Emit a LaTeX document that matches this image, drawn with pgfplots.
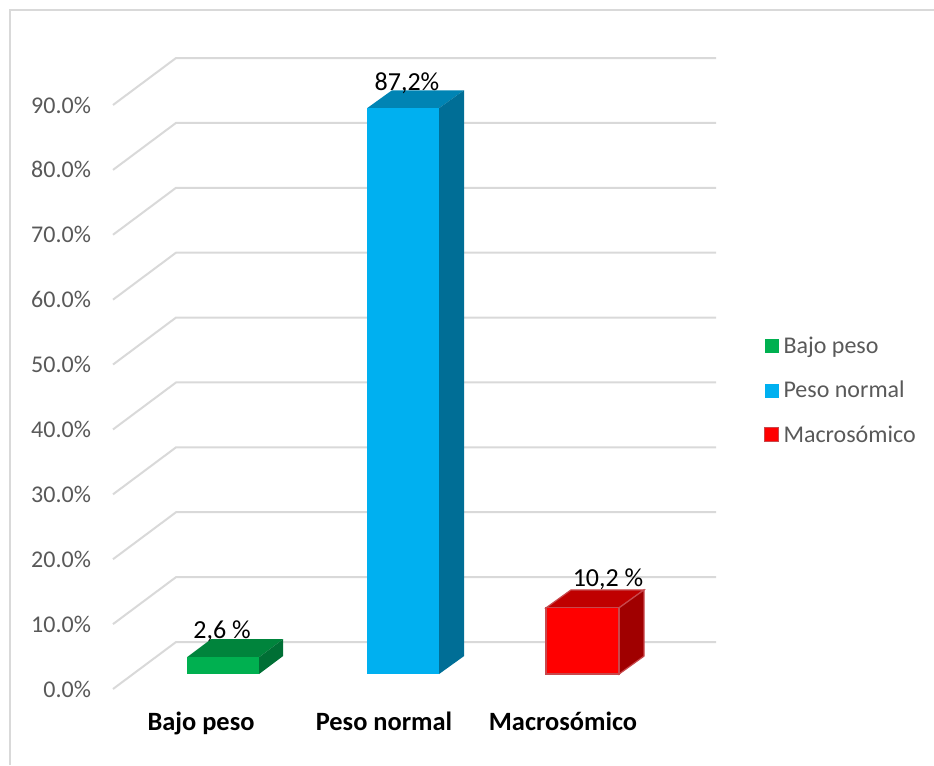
\documentclass[border=0pt]{standalone}
\usepackage{fontspec}
\setmainfont{Carlito}
\usepackage{pgfplots}
\pgfplotsset{compat=1.18}
\definecolor{gridc}{HTML}{D9D9D9}
\definecolor{txt}{HTML}{595959}
\definecolor{gF}{HTML}{00B050}\definecolor{gT}{HTML}{00843C}\definecolor{gS}{HTML}{006F35}
\definecolor{bF}{HTML}{00B0F0}\definecolor{bT}{HTML}{0084B4}\definecolor{bS}{HTML}{006E96}
\definecolor{rF}{HTML}{FF0000}\definecolor{rT}{HTML}{BF0000}\definecolor{rS}{HTML}{A00000}
\definecolor{rB}{HTML}{C8484C}
\begin{document}
\begin{tikzpicture}
\path[use as bounding box] (0,0) rectangle (700.5pt,573.75pt);
\draw[gridc,line width=1.5pt] (7.5pt,0) -- (7.5pt,566.25pt) -- (700.5pt,566.25pt);
\begin{axis}[
  at={(84.75pt,57pt)}, anchor=south west,
  scale only axis, width=452.25pt, height=438pt,
  xmin=113, xmax=716, ymin=0, ymax=90,
  clip=false,
  axis line style={draw=none},
  major tick length=0pt,
  ytick={0,10,...,90},
  xtick={201,384,563},
  xticklabels={Bajo peso,Peso normal,Macrosómico},
  xticklabel style={font=\fontsize{19.8pt}{22pt}\selectfont\bfseries, text=black, anchor=base, yshift=-31pt},
  yticklabel style={font=\fontsize{18pt}{20pt}\selectfont, text=txt, xshift=-13pt, /pgf/number format/assume math mode=true,
     /pgf/number format/fixed, /pgf/number format/fixed zerofill, /pgf/number format/precision=1},
  yticklabel={\pgfmathprintnumber{\tick}\%},
  legend style={at={(764pt*0.75-84.75pt,181.5pt)}, anchor=south west, draw=none, fill=none, font=\fontsize{18pt}{20pt}\selectfont, text=txt, row sep=15.25pt, inner sep=0pt},
  legend cell align=left,
  legend image code/.code={\path[draw=none,fill=none] (0pt,0pt) -- (12pt,0pt);\fill[#1] (0pt,-5.25pt) rectangle (10.5pt,5.25pt);},
]
% wall and floor gridlines
\pgfplotsinvokeforeach{0,10,...,90}{
  \draw[gridc,line width=1.5pt] (axis cs:113,#1) -- (axis cs:176,#1+7.24) -- (axis cs:716,#1+7.24);
}
% Bajo peso 2.6
\addplot[fill=gT,draw=none,forget plot] coordinates {(187,4.9)(259,4.9)(283,7.67)(211,7.67)};
\addplot[fill=gS,draw=none,forget plot] coordinates {(259,2.3)(283,5.07)(283,7.67)(259,4.9)};
\addplot[fill=gF,draw=none] coordinates {(187,2.3)(259,2.3)(259,4.9)(187,4.9)};
% Peso normal 87.2
\addplot[fill=bT,draw=none,forget plot] coordinates {(367,89.5)(439,89.5)(464,92.27)(392,92.27)};
\addplot[fill=bS,draw=none,forget plot] coordinates {(439,2.3)(464,5.07)(464,92.27)(439,89.5)};
\addplot[fill=bF,draw=none] coordinates {(367,2.3)(439,2.3)(439,89.5)(367,89.5)};
% Macrosomico 10.2
\addplot[fill=rT,draw=rB,line width=.9pt,forget plot] coordinates {(546,12.5)(619,12.5)(644,15.27)(571,15.27)} -- cycle;
\addplot[fill=rS,draw=rB,line width=.9pt,forget plot] coordinates {(619,2.3)(644,5.07)(644,15.27)(619,12.5)} -- cycle;
\addplot[fill=rF,draw=rB,line width=.9pt] coordinates {(546,2.3)(619,2.3)(619,12.5)(546,12.5)} -- cycle;
\legend{Bajo peso,Peso normal,Macrosómico}
\node[anchor=base,font=\fontsize{19.5pt}{22pt}\selectfont,text=black,inner sep=0pt] at (axis cs:222,7.86) {2,6 \%};
\node[anchor=base,font=\fontsize{19.5pt}{22pt}\selectfont,text=black,inner sep=0pt] at (axis cs:407,92.3) {87,2\%};
\node[anchor=base,font=\fontsize{19.5pt}{22pt}\selectfont,text=black,inner sep=0pt] at (axis cs:608,15.87) {10,2 \%};
\end{axis}
\end{tikzpicture}
\end{document}
